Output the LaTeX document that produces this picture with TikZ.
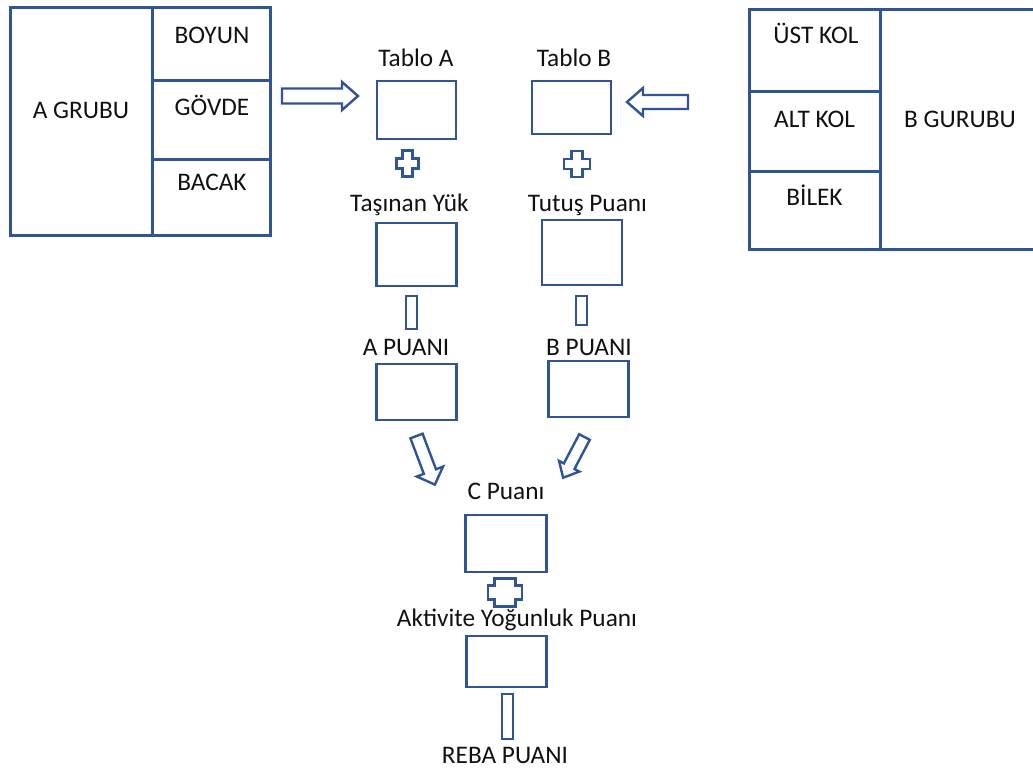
\documentclass[tikz,border=0pt]{standalone}
\usepackage{fontspec}
\setmainfont{Carlito}
\definecolor{lineblue}{HTML}{2F5597}
\definecolor{txt}{HTML}{111111}
\newcommand\plusat[6]{%
  \draw[blk] (#1-#5,#2-#4) -- (#1+#5,#2-#4) -- (#1+#5,#2-#6) -- (#1+#3,#2-#6)
    -- (#1+#3,#2+#6) -- (#1+#5,#2+#6) -- (#1+#5,#2+#4) -- (#1-#5,#2+#4)
    -- (#1-#5,#2+#6) -- (#1-#3,#2+#6) -- (#1-#3,#2-#6) -- (#1-#5,#2-#6) -- cycle;}
% tail x, tail y, angle, length, shaft half, head half, head length
\newcommand\blockarrow[7]{%
  \begin{scope}[shift={(#1,#2)},rotate=#3]
  \draw[blk] (0,-#5) -- (#4-#7,-#5) -- (#4-#7,-#6) -- (#4,0) -- (#4-#7,#6)
    -- (#4-#7,#5) -- (0,#5) -- cycle;
  \end{scope}}
\begin{document}
\begin{tikzpicture}[x=1pt,y=-1pt,
  grp/.style={draw=lineblue,line width=3pt,inner sep=0pt},
  box/.style={draw=lineblue,line width=2.8pt,inner sep=0pt},
  blk/.style={draw=lineblue,line width=2.4pt,fill=white,line join=miter},
  lbl/.style={anchor=base,inner sep=0pt,text=txt,font=\fontsize{25.3}{29}\selectfont}]
\useasboundingbox (0,0) rectangle (1033,769);
\clip (0,0) rectangle (1033,769);

% ---------- A group ----------
\node[grp,minimum width=142,minimum height=228] (agrp) at (81,121) {};
\node[grp,minimum width=118,minimum height=73] (boyun) at (211,43.5) {};
\node[grp,minimum width=118,minimum height=79] (govde) at (211,119.5) {};
\node[grp,minimum width=118,minimum height=76] (bacak) at (211,197) {};
\node[lbl] (agrpT) at (81,118) {A GRUBU};
\node[lbl] (boyunT) at (212,43) {BOYUN};
\node[lbl] (govdeT) at (212,115) {GÖVDE};
\node[lbl] (bacakT) at (212,190) {BACAK};

% ---------- B group ----------
\node[grp,minimum width=160,minimum height=240] (bgrp) at (960,129) {};
\node[grp,minimum width=131,minimum height=82] (ustkol) at (814.5,50) {};
\node[grp,minimum width=131,minimum height=80] (altkol) at (814.5,131) {};
\node[grp,minimum width=131,minimum height=78] (bilek) at (814.5,210) {};
\node[lbl] (ustkolT) at (816,43) {ÜST KOL};
\node[lbl] (altkolT) at (814.5,127) {ALT KOL};
\node[lbl] (bilekT) at (814.5,205) {BİLEK};
\node[lbl] (bgrpT) at (960,127) {B GURUBU};

% ---------- middle column ----------
\node[lbl] (tAT) at (416,66) {Tablo A};
\node[box,minimum width=79,minimum height=58] (tA) at (416.5,110) {};
\node[lbl] (tBT) at (574,66) {Tablo B};
\node[box,minimum width=79,minimum height=53] (tB) at (571.5,107.5) {};

\node[lbl] (yukT) at (409.5,211) {Taşınan Yük};
\node[box,minimum width=80,minimum height=63] (yuk) at (416.5,254.5) {};
\node[lbl] (tutT) at (587.5,211) {Tutuş Puanı};
\node[box,minimum width=80,minimum height=65] (tut) at (582,252.5) {};

\node[lbl] (apT) at (406,355) {A PUANI};
\node[box,minimum width=80,minimum height=56] (ap) at (416.5,392) {};
\node[lbl] (bpT) at (589,355) {B PUANI};
\node[box,minimum width=80,minimum height=56] (bp) at (588.5,389) {};

\node[lbl] (cpT) at (506,499) {C Puanı};
\node[box,minimum width=81,minimum height=57] (cp) at (506,543.5) {};

\node[lbl] (akT) at (517,626) {Aktivite Yoğunluk Puanı};
\node[box,minimum width=80,minimum height=51] (ak) at (506.5,661.5) {};

\node[lbl] (rebaT) at (505,763) {REBA PUANI};

% ---------- block arrows ----------
\blockarrow{282}{96}{0}{76}{7.5}{14}{16}
\blockarrow{688}{102}{180}{61}{7}{14}{16}
\blockarrow{416.5}{436}{-69.3}{52}{6.5}{14}{14}
\blockarrow{584.5}{437}{-117.7}{46}{6}{11.5}{13}

% ---------- plus signs ----------
\plusat{407.5}{163.5}{11}{13}{5}{5}
\plusat{577}{164}{13}{13}{5.5}{5}
\plusat{505}{592.5}{17}{14}{10.5}{7}

% ---------- bars ----------
\node[box,line width=2.4pt,minimum width=11,minimum height=33] (barA) at (411.5,312.5) {};
\node[box,line width=2.4pt,minimum width=11,minimum height=29] (barB) at (581.5,310.5) {};
\node[box,line width=2.4pt,minimum width=11,minimum height=45] (barR) at (507.5,716.5) {};
\end{tikzpicture}
\end{document}
